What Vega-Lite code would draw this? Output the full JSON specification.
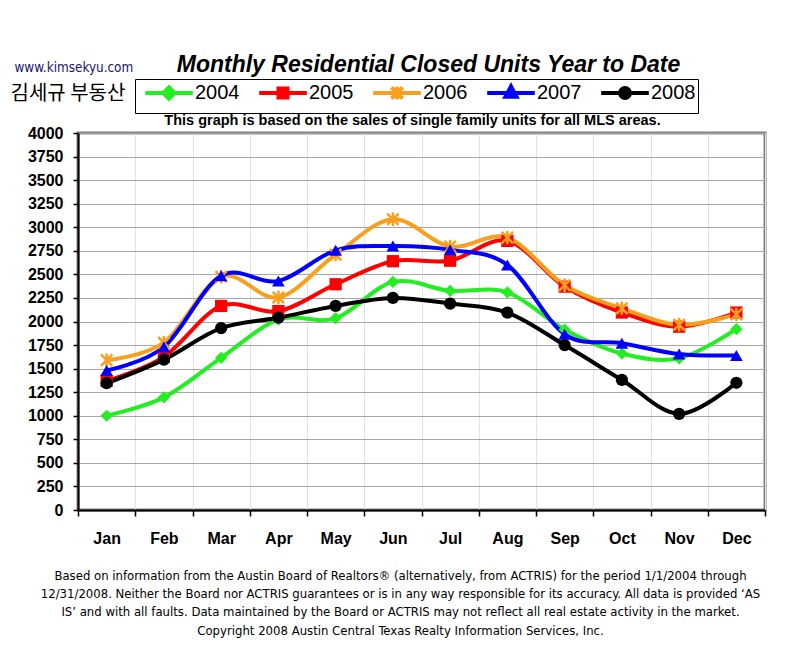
{
  "$schema": "https://vega.github.io/schema/vega-lite/v6.json",
  "width": 687,
  "height": 377,
  "autosize": {"type": "none"},
  "padding": {"left": 78, "top": 133, "right": 36, "bottom": 141},
  "background": "white",
  "title": {
    "text": "Monthly Residential Closed Units Year to Date",
    "font": "Liberation Sans",
    "fontSize": 23,
    "fontWeight": "bold",
    "fontStyle": "italic",
    "color": "black",
    "anchor": "middle",
    "frame": "group",
    "dx": 7,
    "dy": 27,
    "offset": 10
  },
  "data": {
    "values": [
      {"month": "Jan", "year": "2004", "units": 1000},
      {"month": "Feb", "year": "2004", "units": 1195},
      {"month": "Mar", "year": "2004", "units": 1615},
      {"month": "Apr", "year": "2004", "units": 2020},
      {"month": "May", "year": "2004", "units": 2035},
      {"month": "Jun", "year": "2004", "units": 2420},
      {"month": "Jul", "year": "2004", "units": 2325},
      {"month": "Aug", "year": "2004", "units": 2310},
      {"month": "Sep", "year": "2004", "units": 1915},
      {"month": "Oct", "year": "2004", "units": 1660},
      {"month": "Nov", "year": "2004", "units": 1610},
      {"month": "Dec", "year": "2004", "units": 1920},
      {"month": "Jan", "year": "2005", "units": 1370},
      {"month": "Feb", "year": "2005", "units": 1625},
      {"month": "Mar", "year": "2005", "units": 2165},
      {"month": "Apr", "year": "2005", "units": 2110},
      {"month": "May", "year": "2005", "units": 2395},
      {"month": "Jun", "year": "2005", "units": 2640},
      {"month": "Jul", "year": "2005", "units": 2645},
      {"month": "Aug", "year": "2005", "units": 2855},
      {"month": "Sep", "year": "2005", "units": 2370},
      {"month": "Oct", "year": "2005", "units": 2095},
      {"month": "Nov", "year": "2005", "units": 1945},
      {"month": "Dec", "year": "2005", "units": 2095},
      {"month": "Jan", "year": "2006", "units": 1590},
      {"month": "Feb", "year": "2006", "units": 1775},
      {"month": "Mar", "year": "2006", "units": 2475},
      {"month": "Apr", "year": "2006", "units": 2255},
      {"month": "May", "year": "2006", "units": 2710},
      {"month": "Jun", "year": "2006", "units": 3085},
      {"month": "Jul", "year": "2006", "units": 2795},
      {"month": "Aug", "year": "2006", "units": 2890},
      {"month": "Sep", "year": "2006", "units": 2385},
      {"month": "Oct", "year": "2006", "units": 2140},
      {"month": "Nov", "year": "2006", "units": 1965},
      {"month": "Dec", "year": "2006", "units": 2075},
      {"month": "Jan", "year": "2007", "units": 1480},
      {"month": "Feb", "year": "2007", "units": 1730},
      {"month": "Mar", "year": "2007", "units": 2485},
      {"month": "Apr", "year": "2007", "units": 2430},
      {"month": "May", "year": "2007", "units": 2755},
      {"month": "Jun", "year": "2007", "units": 2800},
      {"month": "Jul", "year": "2007", "units": 2760},
      {"month": "Aug", "year": "2007", "units": 2600},
      {"month": "Sep", "year": "2007", "units": 1865},
      {"month": "Oct", "year": "2007", "units": 1770},
      {"month": "Nov", "year": "2007", "units": 1655},
      {"month": "Dec", "year": "2007", "units": 1640},
      {"month": "Jan", "year": "2008", "units": 1345},
      {"month": "Feb", "year": "2008", "units": 1595},
      {"month": "Mar", "year": "2008", "units": 1930},
      {"month": "Apr", "year": "2008", "units": 2040},
      {"month": "May", "year": "2008", "units": 2165},
      {"month": "Jun", "year": "2008", "units": 2250},
      {"month": "Jul", "year": "2008", "units": 2190},
      {"month": "Aug", "year": "2008", "units": 2095},
      {"month": "Sep", "year": "2008", "units": 1750},
      {"month": "Oct", "year": "2008", "units": 1380},
      {"month": "Nov", "year": "2008", "units": 1020},
      {"month": "Dec", "year": "2008", "units": 1350}
    ]
  },
  "layer": [
    {
      "mark": {"type": "line", "interpolate": "cardinal", "strokeWidth": 4},
      "encoding": {
        "x": {
          "field": "month",
          "type": "ordinal",
          "sort": ["Jan", "Feb", "Mar", "Apr", "May", "Jun", "Jul", "Aug", "Sep", "Oct", "Nov", "Dec"],
          "scale": {"type": "band", "paddingInner": 0, "paddingOuter": 0},
          "bandPosition": 0.5,
          "axis": {
            "orient": "bottom",
            "tickBand": "extent",
            "grid": true,
            "gridColor": "#e2e2e2",
            "gridWidth": 1,
            "domainColor": "black",
            "domainWidth": 2,
            "tickColor": "black",
            "tickSize": 6,
            "tickWidth": 1.5,
            "labelAngle": 0,
            "labelFont": "Liberation Sans",
            "labelFontSize": 16,
            "labelFontWeight": "bold",
            "labelColor": "black",
            "labelPadding": 14,
            "title": [
              "Based on information from the Austin Board of Realtors® (alternatively, from ACTRIS) for the period 1/1/2004 through",
              "12/31/2008.  Neither the Board nor ACTRIS guarantees or is in any way responsible for its accuracy.  All data is provided ‘AS",
              "IS’ and with all faults.  Data maintained by the Board or ACTRIS may not reflect all real estate activity in the market.",
              "Copyright 2008 Austin Central Texas Realty Information Services, Inc."
            ],
            "titleFont": "DejaVu Sans Condensed",
            "titleFontSize": 13,
            "titleFontWeight": "normal",
            "titleColor": "black",
            "titleLineHeight": 18.4,
            "titleAlign": "center",
            "titleBaseline": "top",
            "titleX": 322,
            "titleY": 59
          }
        },
        "y": {
          "field": "units",
          "type": "quantitative",
          "scale": {"domain": [0, 4000], "nice": false},
          "axis": {
            "orient": "left",
            "values": [0, 250, 500, 750, 1000, 1250, 1500, 1750, 2000, 2250, 2500, 2750, 3000, 3250, 3500, 3750, 4000],
            "format": "d",
            "grid": true,
            "gridColor": "#a6a6a6",
            "gridWidth": 1,
            "domainColor": "black",
            "domainWidth": 2,
            "tickColor": "black",
            "tickSize": 5,
            "tickWidth": 1.5,
            "labelFont": "Liberation Sans",
            "labelFontSize": 16,
            "labelFontWeight": "bold",
            "labelColor": "black",
            "labelPadding": 10,
            "title": "www.kimsekyu.com",
            "titleFont": "DejaVu Sans Condensed",
            "titleFontSize": 13.4,
            "titleFontWeight": "normal",
            "titleColor": "#14146e",
            "titleAngle": 0,
            "titleAlign": "left",
            "titleBaseline": "middle",
            "titleX": -64,
            "titleY": -66
          }
        },
        "color": {
          "field": "year",
          "type": "nominal",
          "scale": {
            "domain": ["2004", "2005", "2006", "2007", "2008"],
            "range": ["#22ee22", "#ff0000", "#f8a01c", "#0000ff", "#000000"]
          },
          "legend": {
            "title": null,
            "orient": "none",
            "direction": "horizontal",
            "legendX": 57,
            "legendY": -54,
            "strokeColor": "black",
            "fillColor": "white",
            "padding": 2,
            "symbolSize": 400,
            "symbolOffset": 20,
            "labelOffset": 14,
            "columnPadding": 11,
            "labelFont": "Liberation Sans",
            "labelFontSize": 20,
            "labelColor": "black",
            "encode": {
              "symbols": {
                "update": {
                  "shape": {"signal": "'M-2.38,-1M2.38,1M-2.38,0L2.38,0' + (datum.value == '2004' ? 'M0,-0.56L0.56,0L0,0.56L-0.56,0Z' : datum.value == '2005' ? 'M-0.455,-0.455L0.455,-0.455L0.455,0.455L-0.455,0.455Z' : datum.value == '2006' ? 'M0,-0.63L0,0.63M-0.56,-0.56L0.56,0.56M-0.56,0.56L0.56,-0.56' : datum.value == '2007' ? 'M0,-0.665L0.56,0.385L-0.56,0.385Z' : 'M-0.49,0A0.49,0.49,0,1,1,0.49,0A0.49,0.49,0,1,1,-0.49,0Z')"},
                  "fill": {"scale": "color", "field": "value"},
                  "stroke": {"scale": "color", "field": "value"},
                  "strokeWidth": {"value": 4},
                  "opacity": {"value": 1},
                  "fillOpacity": {"value": 1}
                }
              }
            }
          }
        }
      }
    },
    {
      "transform": [{"filter": "datum.year == '2004'"}],
      "mark": {"type": "point", "shape": "diamond", "filled": true, "color": "#22ee22", "size": 150, "opacity": 1},
      "encoding": {
        "x": {
          "field": "month",
          "type": "ordinal",
          "sort": ["Jan", "Feb", "Mar", "Apr", "May", "Jun", "Jul", "Aug", "Sep", "Oct", "Nov", "Dec"],
          "bandPosition": 0.5,
          "axis": {
            "orient": "top",
            "domain": false,
            "ticks": false,
            "labels": false,
            "grid": false,
            "title": "This graph is based on the sales of single family units for all MLS areas.",
            "titleFont": "Liberation Sans",
            "titleFontSize": 14.5,
            "titleFontWeight": "bold",
            "titleColor": "black",
            "titleAlign": "center",
            "titleBaseline": "middle",
            "titleX": 334,
            "titleY": -13
          }
        },
        "y": {
          "field": "units",
          "type": "quantitative",
          "axis": {
            "orient": "right",
            "domain": false,
            "ticks": false,
            "labels": false,
            "grid": false,
            "title": "김세규 부동산",
            "titleFont": "Noto Sans CJK KR",
            "titleFontSize": 20,
            "titleFontWeight": "normal",
            "titleColor": "black",
            "titleAngle": 0,
            "titleAlign": "left",
            "titleBaseline": "middle",
            "titleX": -755,
            "titleY": -40
          }
        }
      }
    },
    {
      "transform": [{"filter": "datum.year == '2005'"}],
      "mark": {"type": "point", "shape": "square", "filled": true, "color": "#ff0000", "size": 150, "opacity": 1},
      "encoding": {
        "x": {"field": "month", "type": "ordinal", "sort": ["Jan", "Feb", "Mar", "Apr", "May", "Jun", "Jul", "Aug", "Sep", "Oct", "Nov", "Dec"], "bandPosition": 0.5, "axis": null},
        "y": {"field": "units", "type": "quantitative", "axis": null}
      }
    },
    {
      "transform": [{"filter": "datum.year == '2006'"}],
      "mark": {"type": "point", "shape": "M0,-1L0,1M-0.85,-0.85L0.85,0.85M-0.85,0.85L0.85,-0.85", "filled": false, "color": "#f8a01c", "strokeWidth": 2.5, "size": 180, "opacity": 1},
      "encoding": {
        "x": {"field": "month", "type": "ordinal", "sort": ["Jan", "Feb", "Mar", "Apr", "May", "Jun", "Jul", "Aug", "Sep", "Oct", "Nov", "Dec"], "bandPosition": 0.5, "axis": null},
        "y": {"field": "units", "type": "quantitative", "axis": null}
      }
    },
    {
      "transform": [{"filter": "datum.year == '2007'"}],
      "mark": {"type": "point", "shape": "triangle-up", "filled": true, "color": "#0000ff", "size": 160, "opacity": 1},
      "encoding": {
        "x": {"field": "month", "type": "ordinal", "sort": ["Jan", "Feb", "Mar", "Apr", "May", "Jun", "Jul", "Aug", "Sep", "Oct", "Nov", "Dec"], "bandPosition": 0.5, "axis": null},
        "y": {"field": "units", "type": "quantitative", "axis": null}
      }
    },
    {
      "transform": [{"filter": "datum.year == '2008'"}],
      "mark": {"type": "point", "shape": "circle", "filled": true, "color": "#000000", "size": 150, "opacity": 1},
      "encoding": {
        "x": {"field": "month", "type": "ordinal", "sort": ["Jan", "Feb", "Mar", "Apr", "May", "Jun", "Jul", "Aug", "Sep", "Oct", "Nov", "Dec"], "bandPosition": 0.5, "axis": null},
        "y": {"field": "units", "type": "quantitative", "axis": null}
      }
    }
  ],
  "resolve": {"axis": {"x": "independent", "y": "independent"}},
  "config": {
    "view": {"stroke": "#808080", "strokeWidth": 3},
    "axis": {"titlePadding": 0}
  }
}
